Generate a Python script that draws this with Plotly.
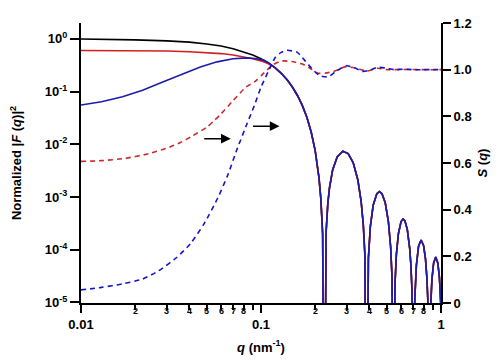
import math
import plotly.graph_objects as go

# ---------------- data ----------------
# shared high-q part of |F(q)|^2 (all three solid curves coincide here)
q_hi = [0.13, 0.14, 0.15, 0.16, 0.17, 0.18, 0.19, 0.20, 0.21, 0.215, 0.22, 0.2247,
        0.23, 0.235, 0.24, 0.25, 0.265, 0.285, 0.305, 0.325, 0.345, 0.36, 0.37, 0.3775,
        0.3863, 0.395, 0.405, 0.42, 0.44, 0.455, 0.47, 0.49, 0.51, 0.525, 0.535, 0.5452,
        0.555, 0.565, 0.58, 0.60, 0.615, 0.63, 0.65, 0.67, 0.68, 0.69, 0.7033,
        0.715, 0.73, 0.75, 0.775, 0.80, 0.82, 0.835, 0.845, 0.8612,
        0.875, 0.89, 0.91, 0.935, 0.96, 0.98, 1.0]
F_hi = [0.2193, 0.1651, 0.1195, 0.0824, 0.0535, 0.0321, 0.0171, 0.00758, 0.00231, 9.3e-4, 2.0e-4, 1e-9,
        2.17e-4, 7.4e-4, 1.48e-3, 3.26e-3, 5.77e-3, 7.40e-3, 6.67e-3, 4.49e-3, 2.13e-3, 8.3e-4, 3.0e-4, 8.3e-5,
        1e-9, 6.9e-5, 2.76e-4, 6.97e-4, 1.156e-3, 1.268e-3, 1.158e-3, 7.78e-4, 3.47e-4, 1.14e-4, 2.8e-5, 1e-9,
        2.2e-5, 8.1e-5, 2.03e-4, 3.43e-4, 3.82e-4, 3.55e-4, 2.41e-4, 1.06e-4, 5.3e-5, 1.7e-5, 1e-9,
        1.15e-5, 5.1e-5, 1.15e-4, 1.53e-4, 1.21e-4, 6.7e-5, 2.9e-5, 1.1e-5, 1e-9,
        7.3e-6, 2.7e-5, 5.6e-5, 7.3e-5, 5.6e-5, 3.0e-5, 7.4e-6]

# low-q parts
q_black = [0.01, 0.015, 0.02, 0.03, 0.04, 0.05, 0.06, 0.07, 0.08, 0.09, 0.10, 0.11, 0.12]
F_black = [0.99, 0.975, 0.955, 0.915, 0.865, 0.80, 0.73, 0.65, 0.572, 0.495, 0.418, 0.347, 0.2816]

q_red = [0.01, 0.02, 0.03, 0.04, 0.05, 0.06, 0.07, 0.08, 0.09, 0.10, 0.11, 0.12]
F_red = [0.60, 0.597, 0.587, 0.57, 0.55, 0.525, 0.494, 0.459, 0.42, 0.382, 0.335, 0.2816]

q_blue = [0.01, 0.013, 0.017, 0.022, 0.028, 0.037, 0.046, 0.057, 0.07, 0.084, 0.095, 0.104, 0.11, 0.12]
F_blue = [0.0556, 0.064, 0.080, 0.106, 0.148, 0.22, 0.293, 0.366, 0.42, 0.435, 0.418, 0.39, 0.352, 0.2816]

# structure factors S(q) (right axis)
q_Sblue = [0.01, 0.013, 0.017, 0.022, 0.027, 0.034, 0.0407, 0.0483, 0.0575, 0.0655, 0.0737,
           0.0838, 0.0917, 0.10, 0.111, 0.12, 0.13, 0.139, 0.1585, 0.174, 0.19, 0.211,
           0.236, 0.257, 0.281, 0.30, 0.334, 0.364, 0.397, 0.443, 0.493, 0.55, 0.62, 0.7, 0.8, 1.0]
S_blue = [0.056, 0.067, 0.082, 0.103, 0.138, 0.195, 0.256, 0.34, 0.45, 0.55, 0.66,
          0.77, 0.845, 0.925, 1.0, 1.052, 1.075, 1.083, 1.075, 1.042, 1.008, 0.975,
          0.969, 0.989, 1.008, 1.017, 1.007, 0.993, 0.996, 1.01, 1.007, 1.0, 1.002, 1.0, 1.0, 1.0]

q_Sred = [0.01, 0.013, 0.0176, 0.0238, 0.031, 0.0357, 0.0414, 0.0503, 0.0551, 0.0596, 0.0697,
          0.0825, 0.0928, 0.1013, 0.116, 0.13, 0.148, 0.17, 0.19, 0.208, 0.227, 0.255,
          0.293, 0.334, 0.388, 0.443, 0.5, 0.6, 0.8, 1.0]
S_red = [0.607, 0.61, 0.62, 0.64, 0.668, 0.688, 0.715, 0.755, 0.783, 0.808, 0.866,
         0.925, 0.95, 0.978, 1.02, 1.037, 1.035, 1.024, 1.003, 0.985, 0.985, 0.993,
         1.012, 1.007, 0.994, 1.006, 1.0, 1.001, 1.0, 1.0]

x_major = [0.01, 0.1, 1]
x_major_text = ["0.01", "0.1", "1"]
x_minor = [0.02, 0.03, 0.04, 0.05, 0.06, 0.07, 0.08, 0.09,
           0.2, 0.3, 0.4, 0.5, 0.6, 0.7, 0.8, 0.9]
x_minor_text = ["2", "3", "4", "5", "6", "7", "8", "",
                "2", "3", "4", "5", "6", "7", "8", ""]
y_left_ticks = [1e-5, 1e-4, 1e-3, 1e-2, 1e-1, 1]
y_left_text = ["10<sup>-5</sup>", "10<sup>-4</sup>", "10<sup>-3</sup>",
               "10<sup>-2</sup>", "10<sup>-1</sup>", "10<sup>0</sup>"]
y_right_ticks = [0, 0.2, 0.4, 0.6, 0.8, 1.0, 1.2]
y_right_text = ["0", "0.2", "0.4", "0.6", "0.8", "1.0", "1.2"]

# ---------------- figure ----------------
FONT = "Liberation Sans, Arial, sans-serif"
BLACK = "#000000"
RED = "#d02020"
BLUE = "#1c1caa"
BLUE_D = "#1414c8"
RED_D = "#cc2a2a"

fig = go.Figure()
fig.add_trace(go.Scatter(x=q_black + q_hi, y=F_black + F_hi, mode="lines",
                         line=dict(color=BLACK, width=1.6), showlegend=False))
fig.add_trace(go.Scatter(x=q_red + q_hi, y=F_red + F_hi, mode="lines",
                         line=dict(color=RED, width=1.6), showlegend=False))
fig.add_trace(go.Scatter(x=q_blue + q_hi, y=F_blue + F_hi, mode="lines",
                         line=dict(color=BLUE, width=1.6), showlegend=False))
fig.add_trace(go.Scatter(x=q_Sred, y=S_red, mode="lines", yaxis="y2",
                         line=dict(color=RED_D, width=1.6, dash="5px,4px", shape="spline", smoothing=0.6),
                         showlegend=False))
fig.add_trace(go.Scatter(x=q_Sblue, y=S_blue, mode="lines", yaxis="y2",
                         line=dict(color=BLUE_D, width=1.6, dash="5px,4px", shape="spline", smoothing=0.6),
                         showlegend=False))

ann = []
for v, t in zip(x_minor, x_minor_text):
    if t:
        ann.append(dict(x=math.log10(v), y=0, xref="x", yref="paper", yanchor="top",
                        yshift=-1, text="<b>" + t + "</b>", showarrow=False,
                        font=dict(family=FONT, size=9, color=BLACK)))

# arrows pointing to the right-hand axis
for qh, sh in [(10 ** -1.168, 0.704), (10 ** -0.897, 0.758)]:
    ann.append(dict(x=math.log10(qh), y=sh, xref="x", yref="y2", ax=-28, ay=0,
                    showarrow=True, arrowhead=2, arrowsize=1.3, arrowwidth=1.5,
                    arrowcolor=BLACK, text=""))

axis_common = dict(showgrid=False, zeroline=False, showline=True, linecolor=BLACK,
                   linewidth=2, ticks="outside", tickcolor=BLACK, tickwidth=1.5)

# the page body adds an 8 px offset, so the figure is 8 px smaller and shifted margins
fig.update_layout(
    width=492, height=353,
    margin=dict(l=71, r=59, t=8, b=49),
    paper_bgcolor="white", plot_bgcolor="white",
    font=dict(family=FONT, size=13, color=BLACK),
    xaxis=dict(type="log", range=[-2, 0], tickmode="array", tickvals=x_major,
               ticktext=["<b>" + t + "</b>" for t in x_major_text], ticklen=8,
               tickfont=dict(family=FONT, size=13, color=BLACK),
               minor=dict(tickmode="array", tickvals=x_minor, ticklen=5, tickwidth=1.5,
                          tickcolor=BLACK, ticks="outside", showgrid=False),
               title=dict(text="<b><i>q</i> (nm<sup>-1</sup>)</b>", standoff=12,
                          font=dict(family=FONT, size=13, color=BLACK)),
               **axis_common),
    yaxis=dict(type="log", range=[-5.01, 0.3], tickmode="array", tickvals=y_left_ticks,
               ticktext=["<b>" + t + "</b>" for t in y_left_text], ticklen=9,
               tickfont=dict(family=FONT, size=13, color=BLACK),
               title=dict(text="<b>Normalized |<i>F</i> (<i>q</i>)|<sup>2</sup></b>", standoff=20,
                          font=dict(family=FONT, size=13, color=BLACK)),
               **axis_common),
    yaxis2=dict(overlaying="y", side="right", range=[0, 1.2], tickmode="array",
                tickvals=y_right_ticks, ticktext=["<b>" + t + "</b>" for t in y_right_text],
                ticklen=8, tickfont=dict(family=FONT, size=13, color=BLACK),
                title=dict(text="<b><i>S</i> (<i>q</i>)</b>", standoff=6,
                           font=dict(family=FONT, size=13, color=BLACK)),
                **axis_common),
    annotations=ann,
)

fig.write_html("out.html")
